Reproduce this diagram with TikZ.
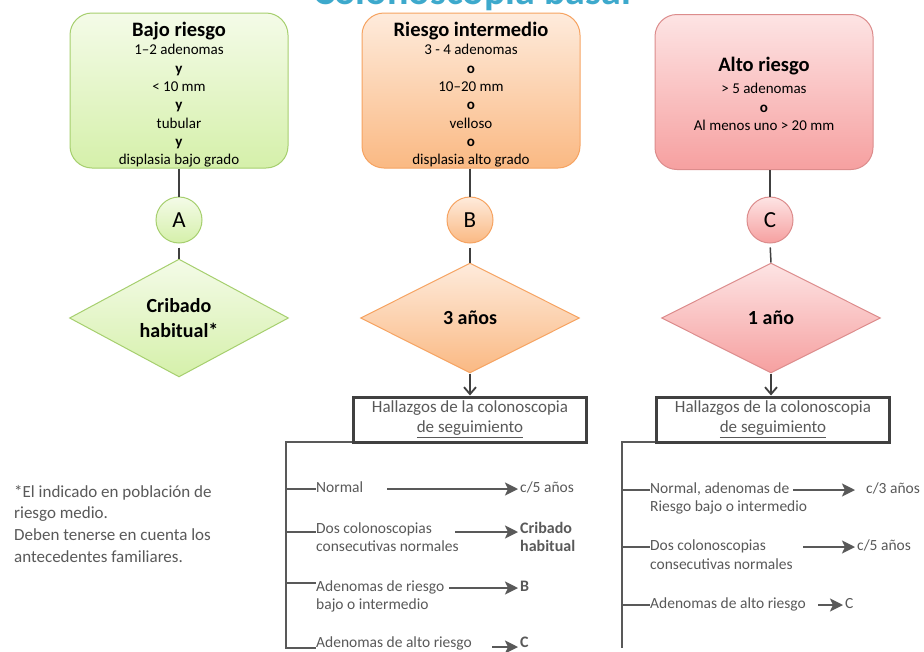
\documentclass[tikz,border=0pt]{standalone}
\usepackage{fontspec}
\setmainfont{Carlito}
\usetikzlibrary{shapes.geometric,arrows.meta}
\definecolor{gEdge}{HTML}{A6CF6E}
\definecolor{gTop}{HTML}{F4FBE8}
\definecolor{gBot}{HTML}{D5F0AA}
\definecolor{oEdge}{HTML}{F6A361}
\definecolor{oTop}{HTML}{FEEBDC}
\definecolor{oBot}{HTML}{FAB983}
\definecolor{rEdge}{HTML}{DC8C8C}
\definecolor{rTop}{HTML}{FDE4E4}
\definecolor{rBot}{HTML}{F6A0A0}
\definecolor{ink}{HTML}{404040}
\definecolor{grayT}{HTML}{595959}
\definecolor{titleC}{HTML}{3DA9CC}
\begin{document}
\begin{tikzpicture}[x=1pt,y=-1pt,
  rbox/.style={rectangle, rounded corners=22pt, line width=1pt, minimum width=218pt, minimum height=155pt, inner sep=0pt},
  boxtxt/.style={align=center, inner sep=0pt, anchor=north, font=\fontsize{15}{18.3}\selectfont},
  circ/.style={circle, line width=1pt, minimum size=46pt, inner sep=0pt, font=\fontsize{23}{23}\selectfont},
  dia/.style={diamond, line width=1pt, minimum width=219pt, minimum height=110pt, inner sep=0pt, align=center, font=\fontsize{20}{25}\selectfont\bfseries},
  green/.style={draw=gEdge, top color=gTop, bottom color=gBot},
  orange/.style={draw=oEdge, top color=oTop, bottom color=oBot},
  red/.style={draw=rEdge, top color=rTop, bottom color=rBot},
  conn/.style={draw=ink, line width=1.5pt},
  darr/.style={draw=ink, line width=1.8pt, -{Straight Barb[length=7pt,width=12pt]}},
  hbox/.style={rectangle, draw=ink, line width=3pt, minimum width=233pt, minimum height=45pt, inner sep=0pt, align=center, text=grayT, font=\fontsize{17}{20}\selectfont},
  brk/.style={draw=grayT, line width=2pt},
  larr/.style={draw=grayT, line width=2pt, -{Stealth[length=13pt,width=13pt,inset=3pt]}},
  item/.style={anchor=west, inner sep=0pt, text height=11pt, text depth=3.5pt, text=grayT, font=\fontsize{15.5}{19}\selectfont},
  res/.style={item, inner xsep=2pt},
  resb/.style={res, font=\fontsize{16}{19}\selectfont\bfseries}
]
\useasboundingbox (0,0) rectangle (924,651);
\fill[white] (0,0) rectangle (924,651);

% title (cut at the top edge)
\node[anchor=base, inner sep=0pt, text=titleC, font=\fontsize{40}{40}\selectfont\bfseries] (title) at (472,4) {Colonoscopia basal};

% top boxes
\node[rbox, green] (boxA) at (179,90.5) {};
\node[rbox, orange] (boxB) at (471,90.5) {};
\node[rbox, red] (boxC) at (764,92) {};

\node[boxtxt] (txtA) at (179,22) {{\fontsize{20.5}{18.3}\selectfont\bfseries Bajo riesgo}\\1–2 adenomas\\\textbf{y}\\< 10 mm\\\textbf{y}\\tubular\\\textbf{y}\\displasia bajo grado};
\node[boxtxt] (txtB) at (471,22) {{\fontsize{20.5}{18.3}\selectfont\bfseries Riesgo intermedio}\\3 - 4 adenomas\\\textbf{o}\\10–20 mm\\\textbf{o}\\velloso\\\textbf{o}\\displasia alto grado};
\node[boxtxt] (txtC) at (764,57) {{\fontsize{20.5}{18.3}\selectfont\bfseries Alto riesgo}\\[4pt]> 5 adenomas\\\textbf{o}\\Al menos uno > 20 mm};

% circles
\node[circ, green] (cA) at (179,220) {A};
\node[circ, orange] (cB) at (470,220) {B};
\node[circ, red] (cC) at (770,220) {C};

% diamonds
\node[dia, green] (dA) at (179,318) {Cribado\\habitual*};
\node[dia, orange] (dB) at (470,318) {3 años};
\node[dia, red] (dC) at (771,318) {1 año};

% connectors top
\draw[conn] (boxA.south) -- (cA.north);
\draw[conn] (cB.north |- boxB.south) -- (cB.north);
\draw[conn] (cC.north |- boxC.south) -- (cC.north);
\draw[conn, shorten <=4pt] (cA.south) -- (dA.north);
\draw[conn, shorten <=4pt] (cB.south) -- (dB.north);
\draw[conn, shorten <=4pt] (cC.south) -- (dC.north);

% follow-up boxes
\node[hbox] (hB) at (470,419.5) {Hallazgos de la colonoscopia\\\underline{de seguimiento}};
\node[hbox] (hC) at (773,419.5) {Hallazgos de la colonoscopia\\\underline{de seguimiento}};
\draw[darr] (dB.south) -- (hB.north);
\draw[darr] (dC.south) -- (dC.south |- hC.north);

% footnote
\node[anchor=north west, align=left, inner sep=0pt, text=grayT, font=\fontsize{17}{21.7}\selectfont] (foot) at (14,485) {*El indicado en población de\\riesgo medio.\\Deben tenerse en cuenta los\\antecedentes familiares.};

% ---- column B list
\coordinate (vB) at (286,648);
\node[item] (b1) at (316,489) {Normal};
\node[res] (r1) at (518,489) {c/5 años};
\coordinate (a1) at (387,489);
\node[item] (b2) at (316,530) {Dos colonoscopias};
\node[item] (b2b) at (316,548) {consecutivas normales};
\node[resb] (r2) at (518,530) {Cribado};
\node[resb] (r2b) at (518,548) {habitual};
\coordinate (a2) at (455,532);
\node[item] (b3) at (316,588) {Adenomas de riesgo};
\node[item] (b3b) at (316,606) {bajo o intermedio};
\node[resb] (r3) at (518,588) {B};
\coordinate (a3) at (449,588);
\node[item] (b4) at (316,644) {Adenomas de alto riesgo};
\node[resb] (r4) at (518,644) {C};
\coordinate (a4) at (492,647);

\draw[brk] ([yshift=2pt]hB.south west) -| (vB) -- (vB -| b4.west);
\draw[brk] (vB |- b1.west) -- (b1.west);
\draw[brk] (vB |- a2) -- (b2.west |- a2);
\draw[brk] (286,583) -- (b3.west |- 0,583);
\draw[larr] (a1) -- (r1.west);
\draw[larr] (a2) -- (r2.west |- a2);
\draw[larr] (a3) -- (r3.west);
\draw[larr] (a4) -- (r4.west |- a4);

% ---- column C list
\coordinate (vC) at (622,648);
\node[item] (c1) at (650,490) {Normal, adenomas de};
\node[item] (c1b) at (650,508) {Riesgo bajo o intermedio};
\node[res] (s1) at (864,490) {c/3 años};
\coordinate (e1) at (793,490);
\node[item] (c2) at (650,547) {Dos colonoscopias};
\node[item] (c2b) at (650,566) {consecutivas normales};
\node[res] (s2) at (855,547) {c/5 años};
\coordinate (e2) at (803,547);
\node[item] (c3) at (650,605) {Adenomas de alto riesgo};
\node[res] (s3) at (843,605) {C};
\coordinate (e3) at (818,605);

\draw[brk] ([yshift=2pt]hC.south west) -| (vC);
\draw[brk] (vC |- c1.west) -- (c1.west);
\draw[brk] (vC |- c2.west) -- (c2.west);
\draw[brk] (vC |- c3.west) -- (c3.west);
\draw[larr, shorten >=9pt] (e1) -- (s1.west);
\draw[larr] (e2) -- (s2.west);
\draw[larr] (e3) -- (s3.west);
\end{tikzpicture}
\end{document}
